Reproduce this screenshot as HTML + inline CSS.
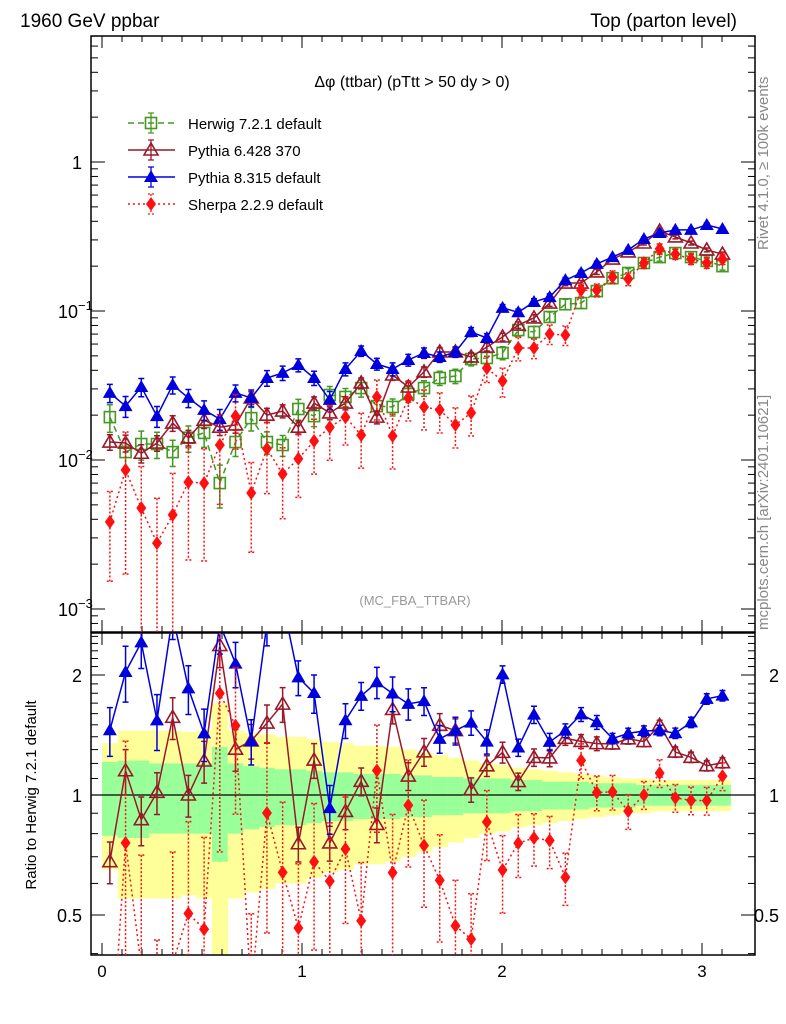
<!DOCTYPE html>
<html><head><meta charset="utf-8"><style>
html,body{margin:0;padding:0;background:#fff;width:786px;height:1024px;overflow:hidden;}
svg{display:block;font-family:"Liberation Sans",sans-serif;overflow:hidden;}
</style></head><body>
<svg id="chart" width="786" height="1024" viewBox="0 0 786 1024" xmlns="http://www.w3.org/2000/svg">
<defs>
<clipPath id="clipMain"><rect x="91" y="36" width="664" height="596"/></clipPath>
<clipPath id="clipRatio"><rect x="91" y="633" width="664" height="322"/></clipPath>
</defs>
<text x="20" y="27" font-size="19">1960 GeV ppbar</text>
<text x="737" y="27" font-size="19" text-anchor="end">Top (parton level)</text>
<text transform="translate(768,250) rotate(-90)" font-size="15" fill="#888">Rivet 4.1.0, ≥ 100k events</text>
<text transform="translate(768,630) rotate(-90)" font-size="15" fill="#888">mcplots.cern.ch [arXiv:2401.10621]</text>
<text transform="translate(36,795) rotate(-90)" font-size="15" text-anchor="middle">Ratio to Herwig 7.2.1 default</text>
<text x="412" y="87" font-size="16" text-anchor="middle">Δφ (ttbar) (pTtt &gt; 50 dy &gt; 0)</text>
<text x="415" y="605" font-size="13" fill="#999" text-anchor="middle">(MC_FBA_TTBAR)</text>
<g id="bands" clip-path="url(#clipRatio)"></g>
<g id="axes"></g>
<g id="mainMarks" clip-path="url(#clipMain)"></g>
<g id="ratioMarks" clip-path="url(#clipRatio)"></g>
<g id="legend"></g>
</svg>
<script>
const herwig=[0.0194,0.0113,0.0128,0.0128,0.0113,0.0141,0.0152,0.0070,0.0132,0.0191,0.0132,0.0126,0.0220,0.0197,0.0273,0.0265,0.0304,0.0230,0.0227,0.0277,0.0304,0.0355,0.0366,0.0476,0.0484,0.0523,0.0745,0.0723,0.0912,0.111,0.113,0.136,0.166,0.180,0.210,0.230,0.245,0.230,0.217,0.200];
const pythia6=[0.0132,0.0130,0.0111,0.0130,0.0177,0.0141,0.0185,0.0166,0.0172,0.0261,0.0200,0.0213,0.0166,0.0241,0.0207,0.0241,0.0329,0.0194,0.0372,0.0309,0.0390,0.0531,0.0531,0.0491,0.0573,0.0669,0.0805,0.0898,0.113,0.154,0.154,0.183,0.223,0.249,0.286,0.344,0.314,0.286,0.257,0.241];
const pythia8=[0.0282,0.0230,0.0309,0.0197,0.0319,0.0261,0.0217,0.0188,0.0282,0.0261,0.0355,0.0384,0.0434,0.0355,0.0253,0.0408,0.0539,0.0441,0.0408,0.0469,0.0523,0.0491,0.0531,0.0723,0.0659,0.105,0.098,0.115,0.124,0.161,0.180,0.207,0.230,0.257,0.304,0.334,0.350,0.350,0.378,0.355];
const sherpa=[0.00384,0.00857,0.00476,0.00277,0.00428,0.00711,0.00700,0.0126,0.0197,0.00601,0.0119,0.00806,0.0102,0.0134,0.0166,0.0194,0.0147,0.0265,0.0145,0.0261,0.0227,0.0217,0.0172,0.0207,0.0414,0.0339,0.0564,0.0564,0.0701,0.0690,0.138,0.138,0.169,0.164,0.210,0.261,0.241,0.223,0.210,0.223];
const herwigStat=[0.21,0.22,0.22,0.2,0.2,0.2,0.2,0.32,0.2,0.18,0.17,0.16,0.16,0.15,0.14,0.14,0.13,0.13,0.13,0.12,0.12,0.11,0.11,0.1,0.1,0.1,0.09,0.09,0.08,0.08,0.08,0.07,0.07,0.07,0.06,0.06,0.06,0.06,0.06,0.06];
const herwigTot=[0.35,0.45,0.45,0.45,0.45,0.44,0.45,0.7,0.45,0.43,0.42,0.4,0.4,0.38,0.36,0.35,0.33,0.33,0.32,0.3,0.28,0.26,0.24,0.22,0.2,0.19,0.17,0.16,0.15,0.14,0.13,0.12,0.11,0.1,0.1,0.09,0.09,0.09,0.09,0.09];
const p6Err=[0.12,0.13,0.14,0.12,0.12,0.12,0.12,0.12,0.12,0.1,0.11,0.1,0.1,0.1,0.1,0.1,0.08,0.1,0.08,0.08,0.08,0.07,0.07,0.07,0.06,0.06,0.05,0.05,0.05,0.04,0.04,0.04,0.03,0.03,0.03,0.03,0.03,0.03,0.03,0.03];
const p8Err=[0.14,0.16,0.14,0.16,0.13,0.14,0.15,0.16,0.13,0.13,0.12,0.11,0.1,0.11,0.14,0.1,0.08,0.09,0.1,0.09,0.08,0.08,0.08,0.07,0.07,0.05,0.05,0.05,0.05,0.04,0.04,0.04,0.03,0.03,0.03,0.03,0.03,0.03,0.03,0.03];
const shErr=[0.6,0.8,0.9,1,0.9,0.7,0.7,0.6,0.4,0.6,0.5,0.5,0.45,0.4,0.4,0.35,0.4,0.3,0.4,0.3,0.3,0.3,0.3,0.3,0.2,0.22,0.18,0.15,0.15,0.15,0.1,0.1,0.1,0.1,0.08,0.08,0.08,0.08,0.08,0.08];
const xTicks=[0,1,2,3];
const mainYTicks=[1,0.1,0.01,0.001];
const mainYLabels=["1","10","10","10"];
const mainYExps=["","−1","−2","−3"];
const ratioYTicks=[2,1,0.5];
const ratioYLabels=["2","1","0.5"];

const NS="http://www.w3.org/2000/svg";
const X0=91,X1=755,MT=36,MB=632,RT=633,RB=955;
const xs=v=>102+200*v;
const ym=v=>162-149*Math.log10(v);
const yr=v=>795-398.6*Math.log10(v);
const nb=herwig.length, bw=Math.PI/nb;
function mk(tag,attrs,parent){const e=document.createElementNS(NS,tag);for(const k in attrs)e.setAttribute(k,attrs[k]);parent.appendChild(e);return e;}
const axes=document.getElementById('axes');
const bands=document.getElementById('bands');
const mainG=document.getElementById('mainMarks');
const ratioG=document.getElementById('ratioMarks');
const leg=document.getElementById('legend');

for(let i=0;i<nb;i++){
  const xa=xs(i*bw),xb=xs((i+1)*bw);
  const ytop=yr(1+herwigTot[i]), ybot=Math.min(yr(Math.max(1-herwigTot[i],0.3)),RB);
  const yb=mk('rect',{x:xa,y:ytop,width:xb-xa+0.5,height:ybot-ytop,fill:'#ffff99'},bands);
  
  
  const gb=mk('rect',{x:xa,y:yr(1+herwigStat[i]),width:xb-xa+0.5,height:yr(1-herwigStat[i])-yr(1+herwigStat[i]),fill:'#99ff99'},bands);
  
  
}
const one=mk('line',{x1:X0,x2:X1,y1:yr(1),y2:yr(1),stroke:'#000','stroke-width':1.3},bands);



[[MT,MB,'main-frame'],[RT,RB,'ratio-frame']].forEach(f=>{
  const r=mk('rect',{x:X0,y:f[0],width:X1-X0,height:f[1]-f[0],fill:'none',stroke:'#000','stroke-width':1.5},axes);
  
  
});
for(let t=0;t<=3.2;t+=0.1){
  const x=xs(t); if(x<X0||x>X1)continue;
  const major=Math.abs(t-Math.round(t))<1e-6; const L=major?12:6;
  [[MT,1],[MB,-1],[RT,1],[RB,-1]].forEach(p=>mk('line',{x1:x,x2:x,y1:p[0],y2:p[0]+p[1]*L,stroke:'#000','stroke-width':1},axes));
}
xTicks.forEach(t=>{const e=mk('text',{x:xs(t),y:977,'font-size':17,'text-anchor':'middle'},axes);e.textContent=t;
  
  });
for(let d=-4;d<=0;d++){for(let m=1;m<=9;m++){const v=m*Math.pow(10,d);const y=ym(v);if(y<MT||y>MB)continue;const L=m==1?14:7;
  mk('line',{x1:X0,x2:X0+L,y1:y,y2:y,stroke:'#000'},axes);mk('line',{x1:X1,x2:X1-L,y1:y,y2:y,stroke:'#000'},axes);}}
mainYTicks.forEach((v,i)=>{const e=mk('text',{x:i==0?82:58,y:ym(v)+7,'font-size':18,'text-anchor':i==0?'end':'start'},axes);
  
  
  e.textContent=mainYLabels[i];
  if(mainYExps[i]){const s=mk('tspan',{dy:-8,'font-size':13},e);s.textContent=mainYExps[i];}});
for(let v=0.4;v<=2.6;v+=0.1){const y=yr(v);if(y<RT||y>RB)continue;const maj=[0.5,1,2].some(q=>Math.abs(q-v)<1e-6);const L=maj?14:7;
  mk('line',{x1:X0,x2:X0+L,y1:y,y2:y,stroke:'#000'},axes);mk('line',{x1:X1,x2:X1-L,y1:y,y2:y,stroke:'#000'},axes);}
ratioYTicks.forEach((v,i)=>{[[82,'end'],[779,'end']].forEach(p=>{const e=mk('text',{x:p[0],y:yr(v)+7,'font-size':18,'text-anchor':p[1]},axes);e.textContent=ratioYLabels[i];
  
  });});

function marker(g,type,x,y,col){
  const s=5.5;
  if(type==='sq') return mk('rect',{x:x-s,y:y-s,width:2*s,height:2*s,fill:'#fff','fill-opacity':0,stroke:col,'stroke-width':1.6},g);
  if(type==='otri') return mk('polygon',{points:`${x},${y-7} ${x-7},${y+5} ${x+7},${y+5}`,fill:'none',stroke:col,'stroke-width':1.6},g);
  if(type==='tri') return mk('polygon',{points:`${x},${y-7} ${x-7},${y+5} ${x+7},${y+5}`,fill:col},g);
  return mk('polygon',{points:`${x},${y-7} ${x+5},${y} ${x},${y+7} ${x-5},${y}`,fill:col},g);
}
const series=[
  {name:'herwig',vals:herwig,err:herwigStat,col:'#449922',type:'sq',dash:'6,4',lab:'Herwig 7.2.1 default'},
  {name:'pythia6',vals:pythia6,err:p6Err,col:'#99182a',type:'otri',dash:'',lab:'Pythia 6.428 370'},
  {name:'pythia8',vals:pythia8,err:p8Err,col:'#0000dd',type:'tri',dash:'',lab:'Pythia 8.315 default'},
  {name:'sherpa',vals:sherpa,err:shErr,col:'#ff1010',type:'dia',dash:'2,3',lab:'Sherpa 2.2.9 default'}
];
function drawSeries(g,s,vals,yf,errs,ratio,ylo,yhi){
  const pts=vals.map((v,i)=>[xs((i+0.5)*bw),yf(v)]);
  const pl=mk('polyline',{points:pts.map(p=>p.join(',')).join(' '),fill:'none',stroke:s.col,'stroke-width':1.5,'stroke-dasharray':s.dash},g);
  
  
  vals.forEach((v,i)=>{
    const x=pts[i][0]; const e=errs[i];
    const yt=Math.max(yf(v*(1+e)),ylo-20), yb=Math.min(yf(Math.max(v*(1-e),v*0.05)),yhi+20);
    const eb=mk('path',{d:`M${x},${yt}V${yb}M${x-3},${yt}H${x+3}M${x-3},${yb}H${x+3}`,stroke:s.col,'stroke-width':1.5,fill:'none','stroke-dasharray':s.dash==='2,3'?'2,2':''},g);
    
    
    const m=marker(g,s.type,x,pts[i][1],s.col);
    
    
  });
}
series.forEach(s=>{
  drawSeries(mainG,s,s.vals,ym,s.err,false,MT,MB);
  if(s.name!=='herwig'){
    drawSeries(ratioG,s,s.vals.map((v,i)=>v/herwig[i]),yr,s.err,true,RT,RB);
  }
});
series.forEach((s,i)=>{
  const y=123+i*27;
  const g=mk('g',{},leg);
  
  
  mk('line',{x1:128,x2:175,y1:y,y2:y,stroke:s.col,'stroke-width':1.5,'stroke-dasharray':s.dash},g);
  mk('path',{d:`M151,${y-10}V${y+10}M148,${y-10}H154M148,${y+10}H154`,stroke:s.col,'stroke-width':1.3,'stroke-dasharray':s.dash==='2,3'?'2,2':''},g);
  marker(g,s.type,151,y,s.col);
  const t=mk('text',{x:188,y:y+6,'font-size':15},g);t.textContent=s.lab;
});
</script>
</body></html>
